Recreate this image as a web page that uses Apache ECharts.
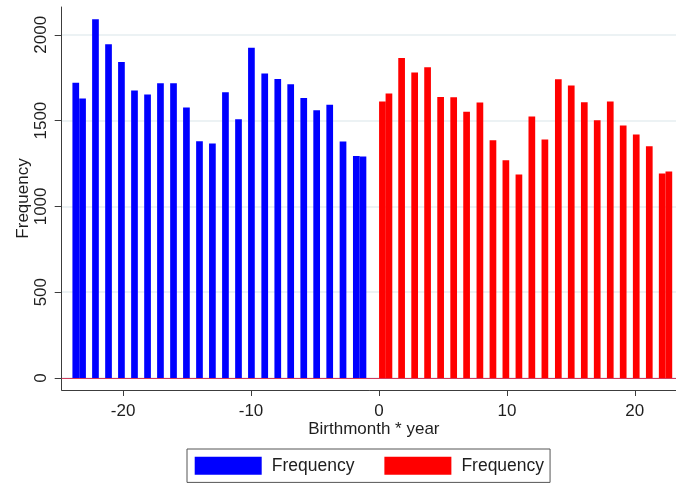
<!DOCTYPE html>
<html>
<head>
<meta charset="utf-8">
<script src="https://cdn.jsdelivr.net/npm/echarts@6/dist/echarts.min.js"></script>
<style>
  html, body { margin: 0; padding: 0; background: #ffffff; }
  #chart { width: 676px; height: 485px; }
</style>
</head>
<body>
<div id="chart"></div>
<script>
// Birthmonth * year positions and counts, before and after the cutoff
const beforeMonths = [-23.70, -23.17, -22.16, -21.14, -20.13, -19.11, -18.09, -17.08,
  -16.06, -15.05, -14.03, -13.02, -12.00, -10.98, -9.97, -8.93, -7.91, -6.90,
  -5.88, -4.87, -3.85, -2.81, -1.77, -1.25];
const beforeCounts = [1720, 1629, 2091, 1945, 1842, 1675, 1652, 1718, 1718, 1576,
  1380, 1367, 1665, 1508, 1924, 1774, 1743, 1712, 1632, 1561, 1592, 1378, 1294, 1291];

const afterMonths = [0.27, 0.78, 1.77, 2.79, 3.80, 4.82, 5.84, 6.85, 7.89, 8.91,
  9.92, 10.94, 11.95, 12.97, 14.02, 15.03, 16.05, 17.06, 18.08, 19.09, 20.11,
  21.13, 22.14, 22.66];
const afterCounts = [1611, 1658, 1865, 1780, 1811, 1638, 1636, 1551, 1605, 1386,
  1269, 1186, 1524, 1390, 1741, 1705, 1607, 1502, 1611, 1471, 1419, 1351, 1192, 1203];

const xTicks = [-20, -10, 0, 10, 20];
const yTicks = [0, 500, 1000, 1500, 2000];

const FONT = 'Liberation Sans, Arial, sans-serif';
const INK = '#1e1e1e';
const AXIS = '#3c3c3c';

const pairs = (xs, ys) => xs.map((x, i) => [x, ys[i]]);

const chart = echarts.init(document.getElementById('chart'), null, { renderer: 'canvas' });

chart.setOption({
  animation: false,
  backgroundColor: '#ffffff',
  textStyle: { fontFamily: FONT, color: INK },
  grid: { left: 61.7, top: 7, width: 624.3, height: 383, containLabel: false, outerBoundsMode: 'none' },
  xAxis: {
    type: 'value',
    min: -24.8,
    max: 24,
    name: 'Birthmonth * year',
    nameLocation: 'middle',
    nameGap: 31,
    nameMoveOverlap: false,
    nameTextStyle: { fontFamily: FONT, fontSize: 17, color: INK },
    axisLine: { show: true, onZero: false, lineStyle: { color: AXIS, width: 1 } },
    axisTick: { show: true, length: 6, customValues: xTicks, lineStyle: { color: AXIS } },
    axisLabel: { customValues: xTicks, fontFamily: FONT, fontSize: 17, color: INK, margin: 13 },
    splitLine: { show: false }
  },
  yAxis: {
    type: 'value',
    min: -70,
    max: 2162,
    name: 'Frequency',
    nameLocation: 'middle',
    nameGap: 30,
    nameMoveOverlap: false,
    nameTextStyle: { fontFamily: FONT, fontSize: 17, color: INK },
    axisLine: { show: true, onZero: false, lineStyle: { color: AXIS, width: 1 } },
    axisTick: { show: true, length: 7, customValues: yTicks, lineStyle: { color: AXIS } },
    axisLabel: {
      customValues: yTicks, rotate: 90, fontFamily: FONT, fontSize: 17, color: INK, margin: 12,
      formatter: (v) => String(v)
    },
    splitLine: { show: true, lineStyle: { color: '#e6eef0', width: 1.5 } }
  },
  legend: {
    left: 187,
    top: 449,
    orient: 'horizontal',
    padding: [7.7, 6, 7.7, 7.7],
    borderColor: '#555555',
    borderWidth: 1,
    itemWidth: 67,
    itemHeight: 18,
    itemGap: 30,
    icon: 'rect',
    formatter: () => 'Frequency',
    textStyle: { fontFamily: FONT, fontSize: 17.5, color: INK, padding: [0, 0, 0, 5] },
    data: ['before', 'after']
  },
  series: [
    {
      name: 'before',
      type: 'bar',
      barWidth: 6.7,
      barGap: '-100%',
      itemStyle: { color: '#0000ff' },
      data: pairs(beforeMonths, beforeCounts)
    },
    {
      name: 'after',
      type: 'bar',
      barWidth: 6.7,
      barGap: '-100%',
      itemStyle: { color: '#ff0000' },
      data: pairs(afterMonths, afterCounts),
      markLine: {
        silent: true,
        symbol: 'none',
        label: { show: false },
        lineStyle: { color: '#d23a5c', width: 1.2, type: 'solid' },
        data: [{ yAxis: 0 }]
      }
    }
  ]
});
</script>
</body>
</html>
